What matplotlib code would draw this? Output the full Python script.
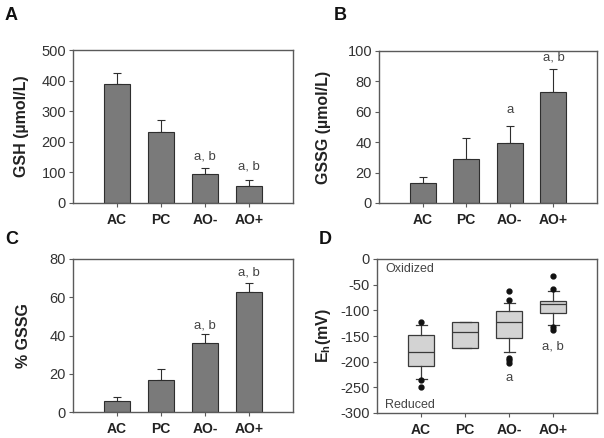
import numpy as np
import matplotlib
matplotlib.use("Agg")
import matplotlib.pyplot as plt

plt.rcParams['font.family'] = ['Liberation Sans', 'DejaVu Sans']
plt.rcParams['mathtext.fontset'] = 'custom'
plt.rcParams['mathtext.rm'] = 'Liberation Sans:bold'
plt.rcParams['mathtext.bf'] = 'Liberation Sans:bold'
plt.rcParams['axes.unicode_minus'] = False

GROUPS = ["AC", "PC", "AO-", "AO+"]

# panel A: GSH
GSH_MEAN = [388, 231, 95, 57]
GSH_ERR = [38, 39, 20, 19]
GSH_NOTE = ["", "", "a, b", "a, b"]
GSH_NOTE_Y = [0, 0, 151, 119]

# panel B: GSSG
GSSG_MEAN = [12.9, 29.2, 39.3, 72.8]
GSSG_ERR = [4.0, 13.8, 11.4, 15.6]
GSSG_NOTE = ["", "", "a", "a, b"]
GSSG_NOTE_Y = [0, 0, 61.5, 96]

# panel C: % GSSG
PCT_MEAN = [5.9, 16.5, 36.2, 62.8]
PCT_ERR = [1.9, 5.9, 4.7, 4.7]
PCT_NOTE = ["", "", "a, b", "a, b"]
PCT_NOTE_Y = [0, 0, 45, 73]

# panel D: Eh box plots
EH_Q1 = [-208, -174, -154, -106]
EH_MED = [-182, -142, -122, -88]
EH_Q3 = [-148, -123, -101, -81]
EH_LO = [-233, -174, -181, -129]
EH_HI = [-129, -123, -85, -62]
EH_FLIERS = [[-122, -236, -249], [], [-63, -80, -192, -197, -202], [-33, -58, -133, -138]]
EH_NOTE = ["", "", "a", "a, b"]
EH_NOTE_Y = [0, 0, -232, -171]

BAR_COLOR = "#7a7a7a"
EDGE = "#2e2e2e"
SPINE = "#5a5a5a"
TXT = "#333333"

W, H = 604, 438
fig = plt.figure(figsize=(W / 100, H / 100), dpi=100)


def px_axes(left, top, right, bottom):
    return fig.add_axes([left / W, 1 - bottom / H, (right - left) / W, (bottom - top) / H])


def style(ax, ylim, yticks, ylabel, label_x):
    ax.set_xlim(-1, 4)
    ax.set_ylim(*ylim)
    ax.set_yticks(yticks)
    ax.set_xticks(range(len(GROUPS)))
    ax.set_xticklabels(GROUPS, fontweight="bold", fontsize=10, color="#222222")
    ax.tick_params(axis="y", labelsize=10.5, colors=SPINE, labelcolor=TXT, length=3, width=0.8, pad=2)
    ax.tick_params(axis="x", colors=SPINE, labelcolor="#222222", length=3, width=0.8, pad=4)
    for s in ax.spines.values():
        s.set_color(SPINE)
        s.set_linewidth(1.0)
    ax.set_ylabel(ylabel, fontsize=11.5, fontweight="bold", color="#222222")
    ax.yaxis.set_label_coords(label_x, 0.5)


def bar_panel(ax, mean, err, notes, note_y):
    x = np.arange(len(GROUPS))
    ax.bar(x, mean, width=0.6, color=BAR_COLOR, edgecolor=EDGE, linewidth=0.8, zorder=2)
    ax.errorbar(x, mean, yerr=[np.zeros(len(err)), err], fmt="none", ecolor=EDGE,
                elinewidth=0.8, capsize=3, capthick=0.8, zorder=1)
    for xi, t, yv in zip(x, notes, note_y):
        if t:
            ax.text(xi, yv, t, ha="center", va="center", fontsize=9.5, color="#444444")


axA = px_axes(73, 50, 293, 203)
bar_panel(axA, GSH_MEAN, GSH_ERR, GSH_NOTE, GSH_NOTE_Y)
style(axA, (0, 500), range(0, 501, 100), "GSH (µmol/L)", -0.20)

axB = px_axes(379, 51, 597, 203)
bar_panel(axB, GSSG_MEAN, GSSG_ERR, GSSG_NOTE, GSSG_NOTE_Y)
style(axB, (0, 100), range(0, 101, 20), "GSSG (µmol/L)", -0.22)

axC = px_axes(73, 259, 293, 412)
bar_panel(axC, PCT_MEAN, PCT_ERR, PCT_NOTE, PCT_NOTE_Y)
style(axC, (0, 80), range(0, 81, 20), "% GSSG", -0.19)

axD = px_axes(377, 259, 597, 413)
stats = []
for i in range(len(GROUPS)):
    stats.append(dict(q1=EH_Q1[i], med=EH_MED[i], q3=EH_Q3[i],
                      whislo=EH_LO[i], whishi=EH_HI[i], fliers=EH_FLIERS[i]))
axD.bxp(stats, positions=range(len(GROUPS)), widths=0.6, patch_artist=True,
        showfliers=True,
        boxprops=dict(facecolor="#d3d3d3", edgecolor="#3a3a3a", linewidth=0.9),
        medianprops=dict(color="#3a3a3a", linewidth=0.9),
        whiskerprops=dict(color="#3a3a3a", linewidth=0.9),
        capprops=dict(color="#3a3a3a", linewidth=0.9),
        capwidths=0.25,
        flierprops=dict(marker="o", markerfacecolor="#111111", markeredgecolor="#111111",
                        markersize=3.5))
for xi, t, yv in zip(range(len(GROUPS)), EH_NOTE, EH_NOTE_Y):
    if t:
        axD.text(xi, yv, t, ha="center", va="center", fontsize=9.5, color="#444444")
axD.text(-0.82, -20, "Oxidized", ha="left", va="center", fontsize=9, color="#444444")
axD.text(-0.82, -285, "Reduced", ha="left", va="center", fontsize=9, color="#444444")
style(axD, (-300, 0), range(-300, 1, 50), r"E$_\mathbf{h}$(mV)", -0.20)

for lbl, (x, y) in zip("ABCD", [(5, 16), (334, 16), (5, 239), (319, 239)]):
    fig.text(x / W, 1 - y / H, lbl, fontsize=13, fontweight="bold", color="#111111",
             ha="left", va="center")

fig.savefig("out.png", dpi=100)
